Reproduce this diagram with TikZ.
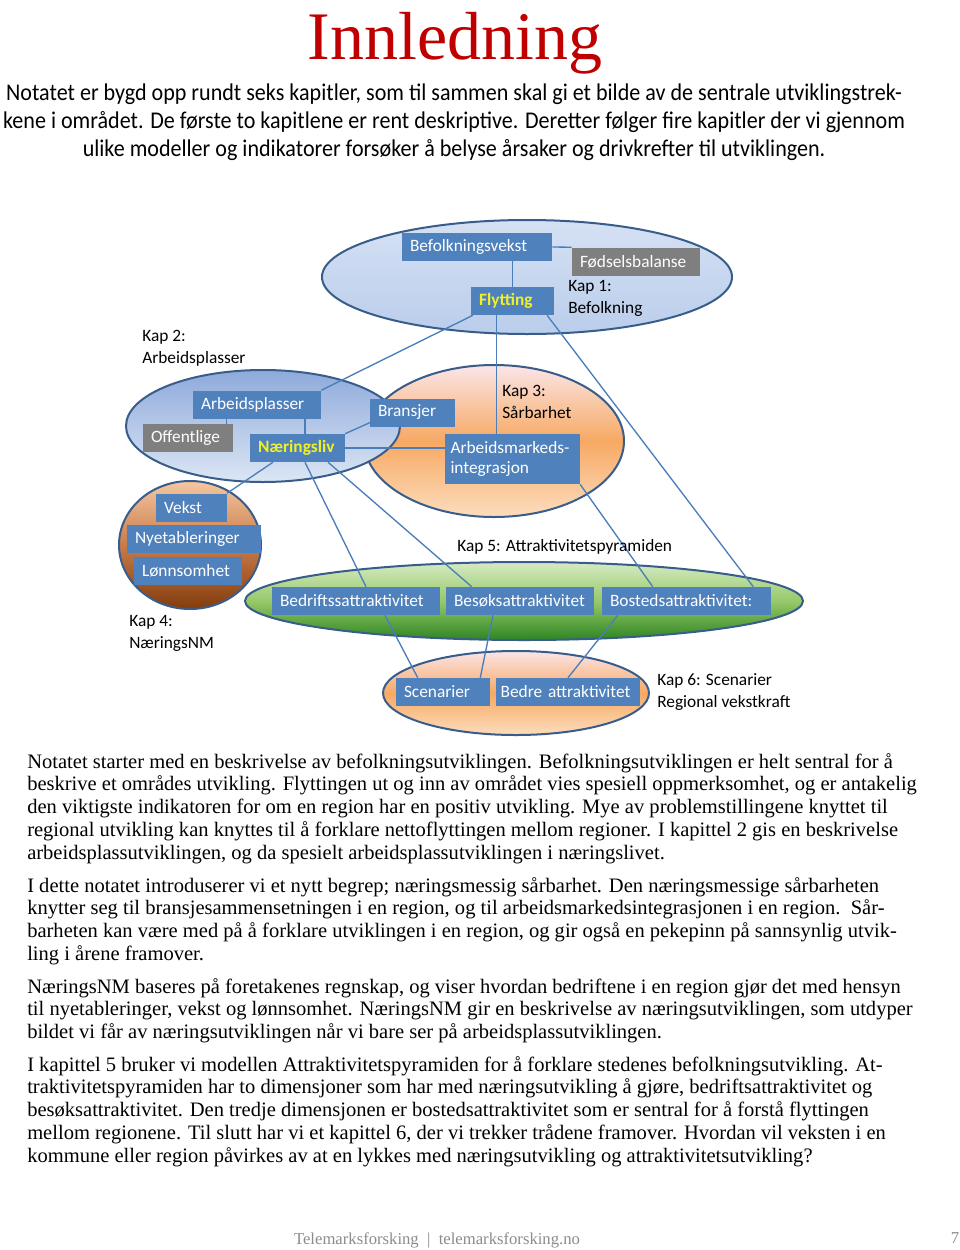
\documentclass[tikz,border=0pt]{standalone}
\usepackage{fontspec}
\setmainfont{Liberation Serif}
\newfontfamily\diafont{Carlito}
\newfontfamily\introfont[FakeStretch=0.92]{Carlito}
\usetikzlibrary{calc}
\definecolor{boxblue}{HTML}{4F81BD}
\definecolor{boxgrey}{HTML}{7F7F7F}
\definecolor{linkblue}{HTML}{4A7EBB}
\definecolor{ringblue}{HTML}{385D8A}
\definecolor{flyyellow}{RGB}{240,240,40}
\definecolor{titlered}{HTML}{C00000}
\definecolor{footgrey}{HTML}{8C8C8C}
\definecolor{befolktop}{HTML}{D5E1F4}
\definecolor{befolkbot}{HTML}{BACDEB}
\definecolor{arbtop}{HTML}{8EAADB}
\definecolor{arbbot}{HTML}{DCE6F4}
\definecolor{peachtop}{HTML}{FBE5E8}
\definecolor{peachmid}{HTML}{F7A963}
\definecolor{peachbot}{HTML}{FCDDBE}
\definecolor{nmtop}{HTML}{F4C7A1}
\definecolor{nmmid}{HTML}{C97B4A}
\definecolor{nmbot}{HTML}{843C0C}
\definecolor{attrtop}{HTML}{D6EAC4}
\definecolor{attrmid}{HTML}{96C969}
\definecolor{attrbot}{HTML}{2E8522}
\begin{document}
\begin{tikzpicture}[x=0.75pt,y=-0.75pt,
  kapbox/.style={fill=boxblue,text=white,font=\diafont\fontsize{13}{15}\selectfont,inner xsep=6pt,inner ysep=0pt,minimum height=21pt,align=left},
  greybox/.style={kapbox,fill=boxgrey},
  hot/.style={text=flyyellow,font=\diafont\bfseries\fontsize{13}{15}\selectfont},
  kaplabel/.style={anchor=west,align=left,inner sep=0pt,font=\diafont\fontsize{13}{16.5}\selectfont},
  kapring/.style={draw=ringblue,line width=1.5pt},
  link/.style={linkblue,line width=1pt},
  bodytext/.style={anchor=north west,align=left,inner sep=0pt,font=\fontsize{15.4}{17.1}\selectfont}]
\useasboundingbox[fill=white] (0,0) rectangle (960,1250);
\node[font=\fontsize{51}{51}\selectfont,text=titlered] (title) at (455,43) {Innledning};
\node[font=\introfont\fontsize{18}{21}\selectfont,align=center] (intro) at (454,122) {Notatet er bygd opp rundt seks kapitler, som til sammen skal gi et bilde av de sentrale utviklingstrek-\\kene i området. De første to kapitlene er rent deskriptive. Deretter følger fire kapitler der vi gjennom\\ulike modeller og indikatorer forsøker å belyse årsaker og drivkrefter til utviklingen.};

\draw[kapring,top color=befolktop,bottom color=befolkbot] (527,277) ellipse [x radius=205,y radius=57];
\draw[kapring,top color=peachtop,bottom color=peachbot,middle color=peachmid] (494,441) ellipse [x radius=130,y radius=76];
\draw[kapring,top color=arbtop,bottom color=arbbot] (263,426) ellipse [x radius=137,y radius=56];
\draw[kapring,top color=nmtop,bottom color=nmbot,middle color=nmmid] (190,545) ellipse [x radius=71,y radius=64];
\draw[kapring,top color=attrtop,bottom color=attrbot,middle color=attrmid] (524,601) ellipse [x radius=279,y radius=39];
\draw[kapring,top color=peachtop,bottom color=peachbot,middle color=peachmid] (516,693) ellipse [x radius=133,y radius=42];

\node[kapbox,text width=100.5pt] (befolk) at (477,247) {Befolkningsvekst};
\node[greybox,text width=84pt] (fods) at (636,261.5) {Fødselsbalanse};
\node[kapbox,hot,text width=50pt] (flytt) at (512.5,301) {Flytting};
\node[kapbox,text width=84pt] (arbpl) at (257,404.5) {Arbeidsplasser};
\node[greybox,text width=55.5pt] (offent) at (188,438) {Offentlige};
\node[kapbox,hot,text width=59pt] (naer) at (297.5,448) {Næringsliv};
\node[kapbox,text width=51.75pt] (bransj) at (412.5,412.5) {Bransjer};
\node[kapbox,text width=93pt,inner xsep=4pt,minimum height=37.5pt] (arbm) at (512.5,459) {Arbeidsmarkeds-\\integrasjon};
\node[kapbox,text width=41pt] (vekst) at (191.5,507.5) {Vekst};
\node[kapbox,text width=88.5pt] (nyetab) at (194,539) {Nyetableringer};
\node[kapbox,text width=69pt] (lonn) at (188,571) {Lønnsomhet};
\node[kapbox,text width=114pt] (bedrift) at (356,601) {Bedriftssattraktivitet};
\node[kapbox,text width=99pt] (besok) at (520,601) {Besøksattraktivitet};
\node[kapbox,text width=114.75pt] (bosted) at (686.5,601) {Bostedsattraktivitet:};
\node[kapbox,text width=58.5pt] (scen) at (443,692) {Scenarier};
\node[kapbox,text width=101pt,inner xsep=3.5pt] (bedre) at (568,692) {Bedre attraktivitet};

\draw[link] (befolk.east) -- (fods.north west);
\draw[link] (flytt.north) -- (flytt.north |- befolk.south);
\draw[link] ($(flytt.south west)+(2,0)$) -- (arbpl.north east);
\draw[link] ($(flytt.south)+(-16,0)$) -- ($(arbm.north)+(-16,0)$);
\draw[link] ($(flytt.south east)+(-7,0)$) -- ($(bosted.north east)+(-18,0)$);
\draw[link] ($(arbpl.south)+(48,0)$) -- ($(naer.north)+(7.5,0)$);
\draw[link] ($(arbpl.south west)+(34,0)$) -- ($(offent.north west)+(84,0)$);
\draw[link] ($(bransj.south west)+(2,-5)$) -- (naer.north east);
\draw[link] (naer.east) -- (naer.east -| arbm.west);
\draw[link] ($(naer.south west)+(23,0)$) -- (vekst.north east);
\draw[link] ($(naer.south)+(7.5,0)$) -- ($(bedrift.north)+(10,0)$);
\draw[link] ($(naer.south east)+(-17,0)$) -- ($(besok.north west)+(26,0)$);
\draw[link] (arbm.south east) -- ($(bosted.north west)+(51,0)$);
\draw[link] ($(bedrift.south)+(29,0)$) -- ($(scen.north west)+(22,0)$);
\draw[link] ($(besok.south)+(-27,0)$) -- ($(scen.north east)+(-10,0)$);
\draw[link] ($(bosted.south west)+(16,0)$) -- (bedre.north);

\node[kaplabel] (kap1) at (568,298) {Kap 1:\\Befolkning};
\node[kaplabel] (kap2) at (142,348.5) {Kap 2:\\Arbeidsplasser};
\node[kaplabel] (kap3) at (502,402) {Kap 3:\\Sårbarhet};
\node[kaplabel] (kap4) at (129,633) {Kap 4:\\NæringsNM};
\node[kaplabel] (kap5) at (457,547) {Kap 5: Attraktivitetspyramiden};
\node[kaplabel] (kap6) at (657,692.5) {Kap 6: Scenarier\\Regional vekstkraft};

\node[bodytext] (para1) at (27,753) {Notatet starter med en beskrivelse av befolkningsutviklingen. Befolkningsutviklingen er helt sentral for å\\beskrive et områdes utvikling. Flyttingen ut og inn av området vies spesiell oppmerksomhet, og er antakelig\\den viktigste indikatoren for om en region har en positiv utvikling. Mye av problemstillingene knyttet til\\regional utvikling kan knyttes til å forklare nettoflyttingen mellom regioner. I kapittel 2 gis en beskrivelse\\arbeidsplassutviklingen, og da spesielt arbeidsplassutviklingen i næringslivet.};
\node[bodytext] (para2) at (27,877) {I dette notatet introduserer vi et nytt begrep; næringsmessig sårbarhet. Den næringsmessige sårbarheten\\knytter seg til bransjesammensetningen i en region, og til arbeidsmarkedsintegrasjonen i en region.\ \ Sår-\\barheten kan være med på å forklare utviklingen i en region, og gir også en pekepinn på sannsynlig utvik-\\ling i årene framover.};
\node[bodytext] (para3) at (27,978) {NæringsNM baseres på foretakenes regnskap, og viser hvordan bedriftene i en region gjør det med hensyn\\til nyetableringer, vekst og lønnsomhet. NæringsNM gir en beskrivelse av næringsutviklingen, som utdyper\\bildet vi får av næringsutviklingen når vi bare ser på arbeidsplassutviklingen.};
\node[bodytext] (para4) at (27,1056) {I kapittel 5 bruker vi modellen Attraktivitetspyramiden for å forklare stedenes befolkningsutvikling. At-\\traktivitetspyramiden har to dimensjoner som har med næringsutvikling å gjøre, bedriftsattraktivitet og\\besøksattraktivitet. Den tredje dimensjonen er bostedsattraktivitet som er sentral for å forstå flyttingen\\mellom regionene. Til slutt har vi et kapittel 6, der vi trekker trådene framover. Hvordan vil veksten i en\\kommune eller region påvirkes av at en lykkes med næringsutvikling og attraktivitetsutvikling?};

\node[font=\fontsize{12.5}{12.5}\selectfont,text=footgrey] (foot) at (437,1240) {Telemarksforsking\enspace|\enspace telemarksforsking.no};
\node[font=\fontsize{12.5}{12.5}\selectfont,text=footgrey] (pageno) at (955,1238) {7};
\end{tikzpicture}
\end{document}
